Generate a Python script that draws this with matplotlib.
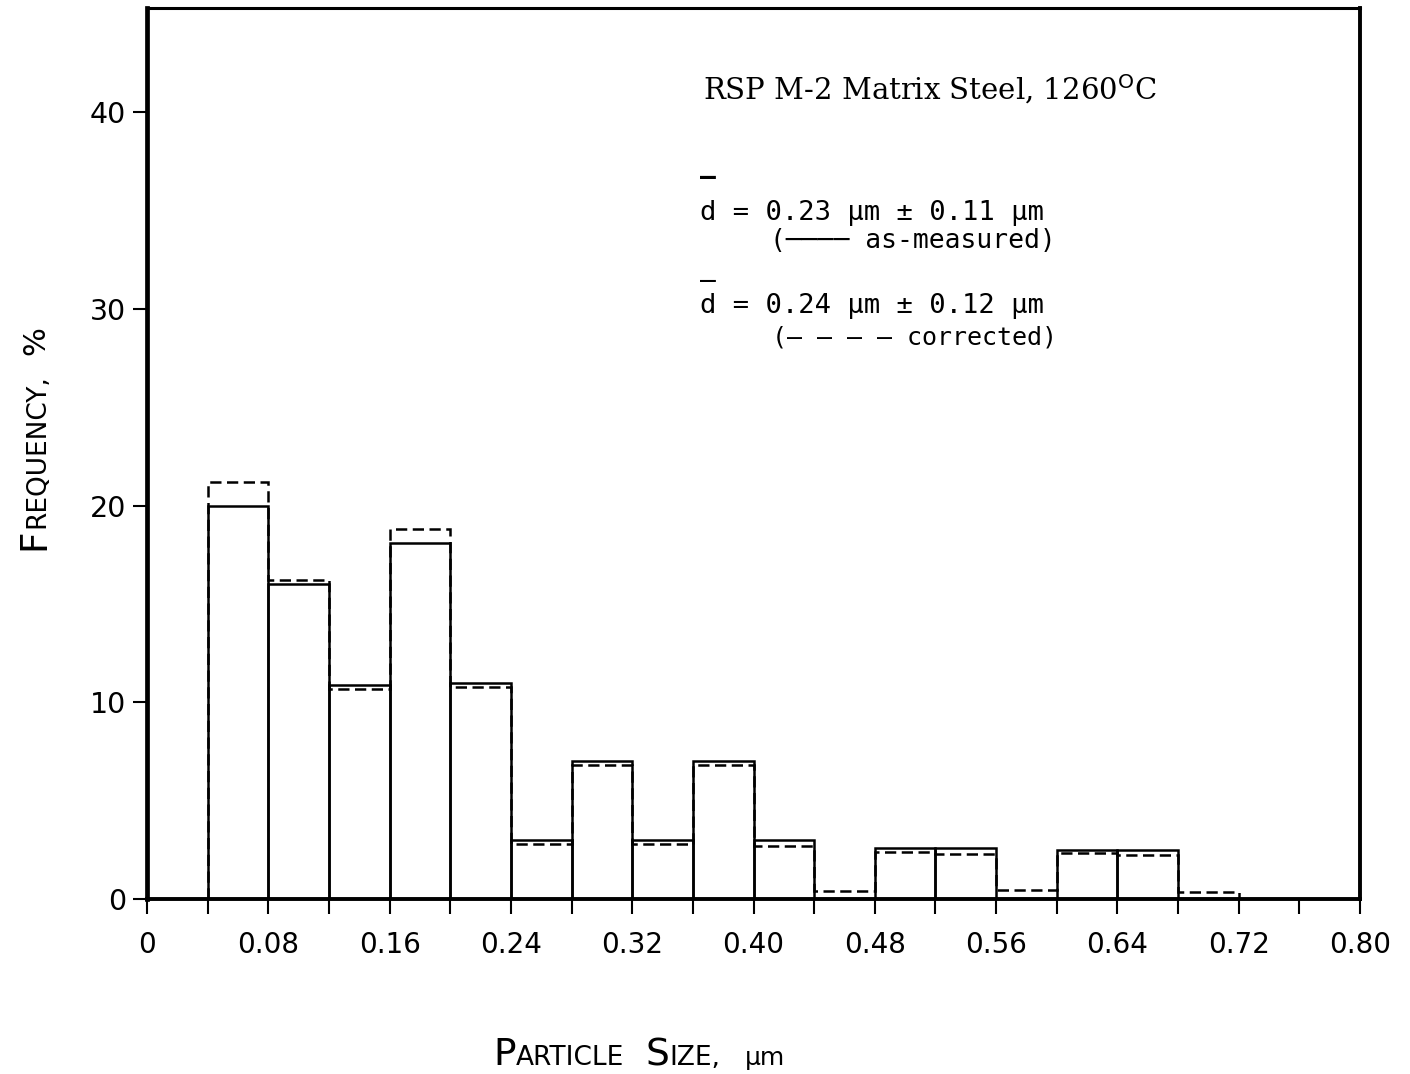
import matplotlib
matplotlib.use("Agg")
import matplotlib.pyplot as plt
import numpy as np

# Histogram data: particle size bins (um) and frequency (%)
bin_edges = [0.04, 0.08, 0.12, 0.16, 0.20, 0.24, 0.28, 0.32, 0.36,
             0.40, 0.44, 0.48, 0.52, 0.56, 0.60, 0.64, 0.68, 0.72]
freq_measured = [20.0, 16.0, 10.9, 18.1, 11.0, 3.0, 7.0, 3.0, 7.0,
                 3.0, 0.0, 2.6, 2.6, 0.0, 2.5, 2.5, 0.0]
freq_corrected = [21.2, 16.2, 10.7, 18.8, 10.8, 2.8, 6.8, 2.8, 6.8,
                  2.7, 0.4, 2.4, 2.3, 0.45, 2.35, 2.25, 0.35]

x_tick_values = [0, 0.08, 0.16, 0.24, 0.32, 0.40, 0.48, 0.56, 0.64, 0.72, 0.80]
x_tick_labels = ["0", "0.08", "0.16", "0.24", "0.32", "0.40", "0.48",
                 "0.56", "0.64", "0.72", "0.80"]
y_tick_values = [0, 10, 20, 30, 40]
y_tick_labels = ["0", "10", "20", "30", "40"]

W, H = 1410, 1074
SANS = ["DejaVu Sans"]
MONO = ["DejaVu Sans Mono"]
SERIF = ["DejaVu Serif"]

fig = plt.figure(figsize=(W / 100, H / 100), dpi=100)
fig.patch.set_facecolor("white")


def px(x, y):
    """Pixel position (from top-left) to figure fraction."""
    return x / W, 1 - y / H


ax = fig.add_axes([147 / W, (H - 899) / H, (1360 - 147) / W, (899 - 8) / H])
ax.set_xlim(0, 0.80)
ax.set_ylim(0, 45.3)

edges = np.array(bin_edges)
widths = np.diff(edges)

# corrected distribution: dashed step outline
ax.stairs(freq_corrected, edges, baseline=0, color="black",
          linestyle=(0, (4.5, 2.2)), linewidth=1.8, zorder=2)
# as-measured distribution: solid open bars
ax.bar(edges[:-1], freq_measured, width=widths, align="edge", fill=False,
       edgecolor="black", linewidth=1.8, zorder=3)

# spines
for side, lw in (("left", 3.4), ("bottom", 2.8), ("top", 2.2), ("right", 2.8)):
    ax.spines[side].set_linewidth(lw)
    ax.spines[side].set_zorder(4)

ax.set_xticks(x_tick_values)
ax.set_xticklabels(x_tick_labels)
ax.set_xticks(np.arange(0.04, 0.80, 0.08), minor=True)
ax.set_yticks(y_tick_values)
ax.set_yticklabels(y_tick_labels)
ax.tick_params(axis="x", which="both", direction="out", length=11, width=1.5,
               pad=12, labelsize=20)
ax.tick_params(axis="y", which="major", direction="out", length=10, width=1.5,
               pad=5, labelsize=20.5)
for lab in ax.get_xticklabels() + ax.get_yticklabels():
    lab.set_family(SANS)

# annotation block
fig.text(*px(703, 100), r"RSP M-2 Matrix Steel, 1260$^{\rm O}$C", family=SERIF,
         fontsize=21, ha="left", va="baseline")
fig.text(*px(700, 185), "\u2013", family=MONO, fontsize=19, ha="left",
         va="baseline", fontweight="bold")
fig.text(*px(700, 220), "d = 0.23 \u03bcm \u00b1 0.11 \u03bcm", family=MONO,
         fontsize=19.5, ha="left", va="baseline")
fig.text(*px(770, 248), "(\u2500\u2500\u2500\u2500 as-measured)", family=MONO,
         fontsize=19, ha="left", va="baseline")
fig.text(*px(700, 288), "\u2013", family=MONO, fontsize=19, ha="left",
         va="baseline")
fig.text(*px(700, 313), "d = 0.24 \u03bcm \u00b1 0.12 \u03bcm", family=MONO,
         fontsize=19.5, ha="left", va="baseline")
fig.text(*px(772, 345), "(\u2013 \u2013 \u2013 \u2013 corrected)", family=MONO,
         fontsize=18, ha="left", va="baseline")


def small_caps(x, y, parts, rotation=0):
    """Place text pieces of different sizes one after another along the baseline."""
    renderer = fig.canvas.get_renderer()
    cx, cy = x, H - y  # display coords
    for text, size, gap in parts:
        t = fig.text(cx / W, cy / H, text, fontsize=size, family=SANS,
                     rotation=rotation, rotation_mode="anchor",
                     ha="left", va="baseline")
        bb = t.get_window_extent(renderer)
        if rotation == 0:
            cx += bb.width + gap
        else:
            cy += bb.height + gap


small_caps(493, 1065, [("P", 27, 0), ("ARTICLE", 19, 22), ("S", 27, 0),
                       ("IZE,", 19, 24), ("\u03bcm", 18, 0)])
small_caps(44, 550, [("F", 27, 0), ("REQUENCY,", 19, 20), ("%", 22, 0)],
           rotation=90)

fig.savefig("out.png", dpi=100, facecolor="white")
